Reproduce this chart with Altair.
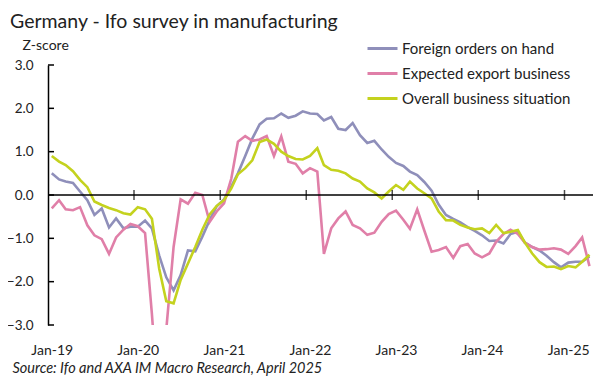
import altair as alt
import pandas as pd

series_names = ["Foreign orders on hand", "Expected export business", "Overall business situation"]
colors = ["#8f8fba", "#e07fa8", "#c4d21e"]

months = pd.date_range("2019-01-01", periods=76, freq="MS").strftime("%Y-%m-%dT00:00:00").tolist()

foreign = [0.50, 0.36, 0.31, 0.28, 0.08, -0.12, -0.46, -0.31, -0.75, -0.54, -0.77, -0.73,
           -0.73, -0.59, -0.77, -1.40, -1.90, -2.20, -1.85, -1.28, -1.30, -0.96, -0.58, -0.26,
           -0.10, 0.20, 0.50, 0.90, 1.30, 1.63, 1.76, 1.77, 1.88, 1.78, 1.83, 1.93,
           1.88, 1.87, 1.72, 1.80, 1.53, 1.50, 1.66, 1.38, 1.20, 1.25, 1.05, 0.88,
           0.74, 0.67, 0.54, 0.46, 0.30, 0.10, -0.22, -0.46, -0.55, -0.63, -0.74, -0.83,
           -0.93, -1.06, -1.05, -1.12, -0.90, -0.85, -1.10, -1.20, -1.28, -1.40, -1.55, -1.67,
           -1.56, -1.54, -1.54, -1.42]

export_exp = [-0.31, -0.12, -0.33, -0.35, -0.28, -0.70, -0.93, -1.02, -1.36, -0.98, -0.80, -0.67,
              -0.72, -0.88, -2.75, -5.00, -3.10, -1.20, -0.10, -0.20, 0.05, 0.00, -0.62, -0.38,
              -0.19, 0.38, 1.23, 1.36, 1.25, 1.28, 1.36, 0.90, 1.35, 0.77, 0.72, 0.50,
              0.62, 0.54, -1.36, -0.77, -0.54, -0.38, -0.69, -0.77, -0.92, -0.87, -0.62, -0.44,
              -0.36, -0.57, -0.78, -0.33, -0.82, -1.31, -1.27, -1.20, -1.45, -1.18, -1.13, -1.35,
              -1.44, -1.35, -1.08, -0.90, -0.80, -0.90, -1.10, -1.20, -1.26, -1.25, -1.23, -1.26,
              -1.36, -1.18, -0.98, -1.64]

overall = [0.90, 0.77, 0.69, 0.55, 0.35, 0.18, -0.15, -0.23, -0.30, -0.35, -0.42, -0.45,
           -0.28, -0.33, -0.55, -1.70, -2.45, -2.50, -1.96, -1.58, -1.20, -0.80, -0.45, -0.25,
           -0.12, 0.15, 0.48, 0.62, 0.80, 1.22, 1.28, 1.18, 1.00, 0.90, 0.83, 0.82,
           0.90, 1.08, 0.69, 0.58, 0.56, 0.50, 0.38, 0.31, 0.15, 0.06, -0.08, 0.08,
           0.23, 0.12, 0.31, 0.15, 0.04, -0.08, -0.38, -0.58, -0.59, -0.69, -0.75, -0.79,
           -0.77, -0.88, -0.69, -0.88, -0.85, -0.81, -1.10, -1.35, -1.55, -1.66, -1.65, -1.71,
           -1.64, -1.67, -1.54, -1.38]

year_bounds = [f"{y}-12-16T00:00:00" for y in range(2019, 2025)]
y_ticks = [-3, -2, -1, 0, 1, 2, 3]

rows = []
for name, vals in zip(series_names, [foreign, export_exp, overall]):
    for d, v in zip(months, vals):
        rows.append({"date": d, "series": name, "value": v})
df = pd.DataFrame(rows)

FONT = "Lato"
TXT = "#222222"

x_scale = alt.Scale(domain=[alt.DateTime(year=2018, month=12, date=16),
                            alt.DateTime(year=2025, month=4, date=16)])
y_scale = alt.Scale(domain=[-3, 3], nice=False)

x_axis = alt.Axis(values=[alt.DateTime(year=y, month=1, date=1) for y in range(2019, 2026)],
                  format="%b-%y", domain=False, ticks=False, grid=False,
                  labelPadding=18, labelFontSize=14, labelFont=FONT, labelColor=TXT,
                  title="Source: Ifo and AXA IM Macro Research, April 2025",
                  titleFont=FONT, titleFontSize=14.5, titleFontStyle="italic",
                  titleFontWeight="normal", titleColor=TXT,
                  titleX=-36, titleY=43, titleAlign="left", titleBaseline="middle")
y_axis = alt.Axis(values=y_ticks, format=".1f", ticks=False, grid=False,
                  domainColor="black", domainWidth=1.5,
                  labelFont=FONT, labelFontSize=13.5, labelColor=TXT, labelPadding=15,
                  title="Z-score", titleAngle=0, titleX=-26, titleY=-20,
                  titleAlign="left", titleBaseline="middle", titleFont=FONT,
                  titleFontSize=14, titleFontWeight="normal", titleColor=TXT)

lines = alt.Chart(df).mark_line(strokeWidth=2.6, clip=True).encode(
    x=alt.X("date:T", scale=x_scale, axis=x_axis),
    y=alt.Y("value:Q", scale=y_scale, axis=y_axis),
    color=alt.Color("series:N", scale=alt.Scale(domain=series_names, range=colors),
                    legend=alt.Legend(title=None, orient="none", legendX=318, legendY=-33,
                                      symbolType="stroke", symbolSize=900,
                                      symbolStrokeWidth=3, labelFont=FONT, labelFontSize=15,
                                      labelColor=TXT, labelOffset=3, rowPadding=-2,
                                      labelLimit=0, padding=0)),
)

zero_line = alt.Chart(pd.DataFrame({"value": [0]})).mark_rule(color="black", strokeWidth=1.5).encode(
    y=alt.Y("value:Q", scale=y_scale, axis=y_axis)
)

year_ticks = alt.Chart(pd.DataFrame({"date": year_bounds, "value": [0] * len(year_bounds)})).mark_tick(
    orient="vertical", size=10, thickness=1.5, color="black"
).encode(x=alt.X("date:T", scale=x_scale, axis=x_axis),
         y=alt.Y("value:Q", scale=y_scale, axis=y_axis))

ytick_marks = alt.Chart(pd.DataFrame({"value": y_ticks})).mark_rule(color="black", strokeWidth=1.5).encode(
    y=alt.Y("value:Q", scale=y_scale, axis=y_axis), x=alt.value(0), x2=alt.value(6)
)

chart = alt.layer(lines, zero_line, year_ticks, ytick_marks).properties(
    width=545, height=260,
    autosize=alt.AutoSizeParams(type="none"),
    padding={"left": 40, "top": 57, "right": 10, "bottom": 53},
    title=alt.TitleParams("Germany - Ifo survey in manufacturing", anchor="start", frame="group",
                          font=FONT, fontSize=19.5, fontWeight="normal", color=TXT, dx=-38, offset=0),
).configure_view(stroke=None)

chart.save("out.html", embed_options={"renderer": "svg", "actions": False})
